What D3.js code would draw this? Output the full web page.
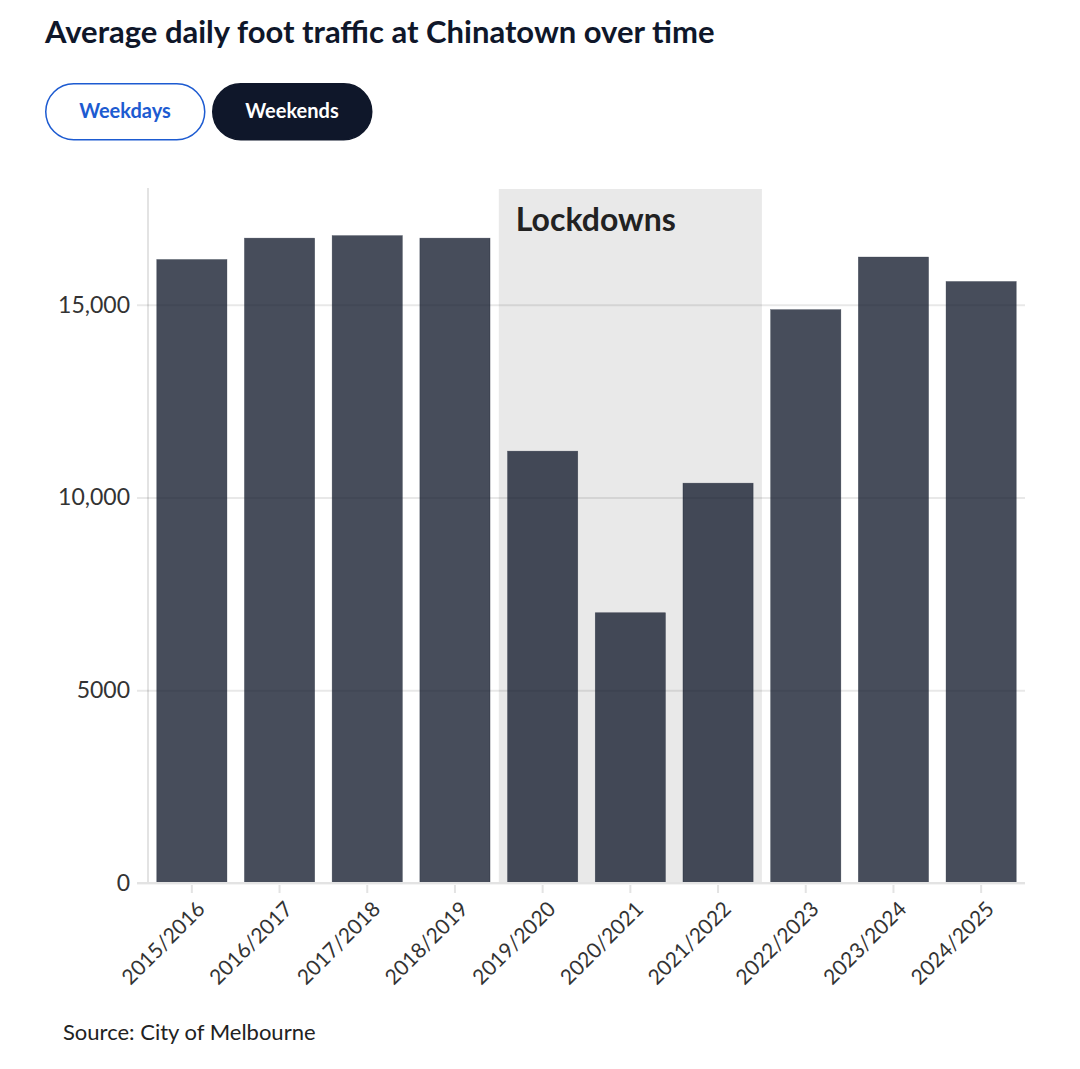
<!DOCTYPE html>
<html>
<head>
<meta charset="utf-8">
<script src="https://cdn.jsdelivr.net/npm/d3@7"></script>
<style>
  body { margin: 0; background: #fff; }
  svg { display: block; font-family: Lato, "Noto Sans", sans-serif; }
</style>
</head>
<body>
<div id="chart"></div>
<script>
const seasons = ["2015/2016", "2016/2017", "2017/2018", "2018/2019", "2019/2020", "2020/2021", "2021/2022", "2022/2023", "2023/2024", "2024/2025"];
const weekendTraffic = [16170, 16725, 16790, 16725, 11200, 7010, 10370, 14870, 16235, 15600];
const yTicks = [0, 5000, 10000, 15000];
const lockdownSeasons = ["2019/2020", "2021/2022"];
const views = ["Weekdays", "Weekends"];

const width = 1080, height = 1069;
const margin = { top: 189, right: 55, bottom: 186, left: 148 };

const svg = d3.select("#chart").append("svg").attr("width", width).attr("height", height);

svg.append("text")
  .attr("x", 45).attr("y", 43)
  .attr("font-size", 31).attr("font-weight", 700).attr("fill", "#0f172a")
  .text("Average daily foot traffic at Chinatown over time");

// toggle buttons
const btn = svg.append("g").selectAll("g").data(views).join("g")
  .attr("transform", (d, i) => `translate(${45 + i * 167},83)`);
btn.append("rect")
  .attr("x", 0.75).attr("y", 0.75).attr("width", 159).attr("height", 56).attr("rx", 28)
  .attr("fill", (d) => d === "Weekends" ? "#0f172a" : "#fff")
  .attr("stroke", (d) => d === "Weekends" ? "#0f172a" : "#1d5bd1")
  .attr("stroke-width", 1.5);
btn.append("text")
  .attr("x", 80).attr("y", 35).attr("text-anchor", "middle")
  .attr("font-size", 20).attr("font-weight", 700)
  .attr("fill", (d) => d === "Weekends" ? "#fff" : "#1d5bd1")
  .text((d) => d);

const x = d3.scaleBand().domain(seasons).range([margin.left, width - margin.right]).paddingInner(0.2).paddingOuter(0.1);
const y = d3.scaleLinear().domain([0, 18000]).range([height - margin.bottom, margin.top]);
const fmt = (v) => v >= 10000 ? d3.format(",")(v) : String(v);

// lockdown shading
const lx0 = x(lockdownSeasons[0]) - x.step() * x.paddingInner() / 2;
const lx1 = x(lockdownSeasons[1]) + x.bandwidth() + x.step() * x.paddingInner() / 2;
svg.append("rect")
  .attr("x", lx0).attr("y", y(18000)).attr("width", lx1 - lx0).attr("height", y(0) - y(18000))
  .attr("fill", "#e9e9e9");
svg.append("text")
  .attr("x", lx0 + 17).attr("y", y(18000) + 42)
  .attr("font-size", 32).attr("font-weight", 700).attr("fill", "#222")
  .text("Lockdowns");

// y axis + grid
const yAxis = svg.append("g")
  .attr("transform", `translate(${margin.left},0)`)
  .call(d3.axisLeft(y).tickValues(yTicks).tickFormat(fmt).tickSize(11).tickPadding(7));
yAxis.select(".domain").attr("stroke", "#e3e3e3").attr("stroke-width", 2).attr("d", `M0,${y(0)}V${y(18000) - 1}`);
yAxis.selectAll(".tick line").attr("stroke", "rgba(0,0,0,0.09)").attr("stroke-width", 2)
  .attr("x1", -11).attr("x2", width - margin.right - margin.left);
yAxis.selectAll(".tick text").attr("font-size", 23).attr("fill", "#333").attr("font-family", "Lato, sans-serif");

// bars
svg.append("g").selectAll("rect").data(seasons).join("rect")
  .attr("x", (d) => x(d))
  .attr("y", (d, i) => y(weekendTraffic[i]))
  .attr("width", x.bandwidth())
  .attr("height", (d, i) => y(0) - y(weekendTraffic[i]))
  .attr("fill", "#0f172a").attr("fill-opacity", 0.77)
  .attr("stroke", "#0f172a").attr("stroke-opacity", 0.5).attr("stroke-width", 0.6);

// x axis
const xAxis = svg.append("g")
  .attr("transform", `translate(0,${y(0)})`)
  .call(d3.axisBottom(x).tickSize(10).tickPadding(6));
xAxis.select(".domain").attr("stroke", "#e3e3e3").attr("stroke-width", 2).attr("d", `M${margin.left - 11},0H${width - margin.right}`);
xAxis.selectAll(".tick line").attr("stroke", "#e3e3e3").attr("stroke-width", 2).attr("y1", 2);
xAxis.selectAll(".tick text")
  .attr("font-size", 21).attr("fill", "#333").attr("font-family", "Lato, sans-serif")
  .attr("text-anchor", "end").attr("dy", 0)
  .attr("transform", "translate(3,16) rotate(-45)");

svg.append("text")
  .attr("x", 63).attr("y", 1040)
  .attr("font-size", 22).attr("fill", "#222")
  .text("Source: City of Melbourne");
</script>
</body>
</html>
